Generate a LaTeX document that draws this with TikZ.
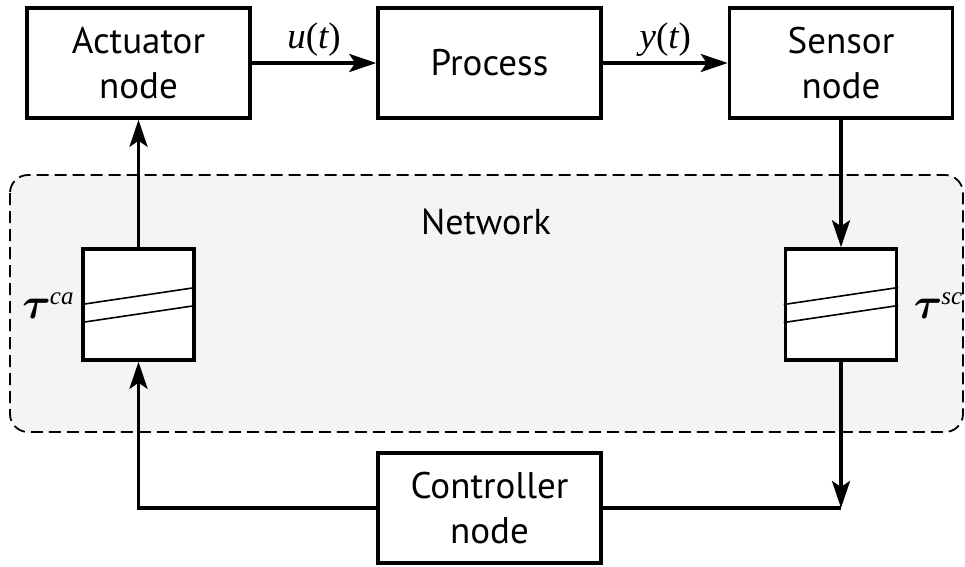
\documentclass[tikz,border=0pt]{standalone}
\usepackage{fontspec}
\usepackage{graphicx}
\setmainfont{PT Sans}
\newfontfamily\serifmath{Liberation Serif}
\usetikzlibrary{arrows.meta}

% italic and upright pieces of the signal labels
\newcommand\sv[1]{{\serifmath\itshape #1}}
\newcommand\sr[1]{{\serifmath #1}}
\newcommand\delaylbl[1]{\scalebox{1.75}{\fontsize{24.88}{25}\selectfont\boldmath$\tau$}\kern-1pt\raisebox{14pt}{\serifmath\itshape\fontsize{25}{25}\selectfont #1}}

\definecolor{netgray}{HTML}{F3F4F6}

\begin{document}
\begin{tikzpicture}[x=1pt,y=-1pt,
  block/.style={draw, line width=3.5pt, fill=white, minimum width=223pt,
    minimum height=110pt, align=center, inner sep=0pt,
    font=\fontsize{37}{45}\selectfont},
  delaybox/.style={draw, line width=3.5pt, fill=white, minimum width=111pt,
    minimum height=111pt, inner sep=0pt},
  wire/.style={line width=3.5pt},
  flow/.style={wire, -{Stealth[length=27pt,width=18pt,inset=6pt]}},
  sig/.style={font=\fontsize{37}{37}\selectfont, inner sep=0pt},
  slash/.style={line width=1.6pt},
]
\useasboundingbox (0,0) rectangle (965,566);

% network region
\draw[fill=netgray, rounded corners=18pt, line width=1.8pt,
      dash pattern=on 12pt off 6pt] (10,175) rectangle (963,432);
\node[font=\fontsize{36}{36}\selectfont] (netlabel) at (486,222) {Network};

% blocks
\node[block] (act)  at (138.5,63) {Actuator\\node};
\node[block] (proc) at (489.5,63) {Process};
\node[block] (sens) at (841,63)   {Sensor\\node};
\node[block] (ctrl) at (489.5,508) {Controller\\node};

% delay blocks
\node[delaybox] (d1) at (138.5,304.5) {};
\node[delaybox] (d2) at (841,304.5) {};
\foreach \d in {d1,d2}{
  \draw[slash] (\d.west) -- ([shift={(0,-17)}]\d.east);
  \draw[slash] ([shift={(0,18)}]\d.west) -- ([shift={(0,1)}]\d.east);
}
\node[inner sep=0pt] (tca) at (48,306) {\delaylbl{ca}};
\node[inner sep=0pt] (tsc) at (938,306) {\delaylbl{sc}};

% junctions on the controller level
\coordinate (jl) at (d1 |- ctrl);
\coordinate (jr) at (d2 |- ctrl);

% signal flow
\draw[flow] (act) -- node[sig, above=5pt] {\sv{u}\sr{(}\sv{t}\sr{)}} (proc);
\draw[flow] (proc) -- node[sig, above=5pt] {\sv{y}\sr{(}\sv{t}\sr{)}} (sens);
\draw[flow] (sens.south) -- (d2.north);
\draw[flow] (d2.south) -- (jr);
\draw[wire] (ctrl.east) -- (jr);
\draw[flow, line join=miter] (ctrl.west) -- (jl) -- (d1.south);
\draw[flow] (d1.north) -- (act.south);
\end{tikzpicture}
\end{document}
